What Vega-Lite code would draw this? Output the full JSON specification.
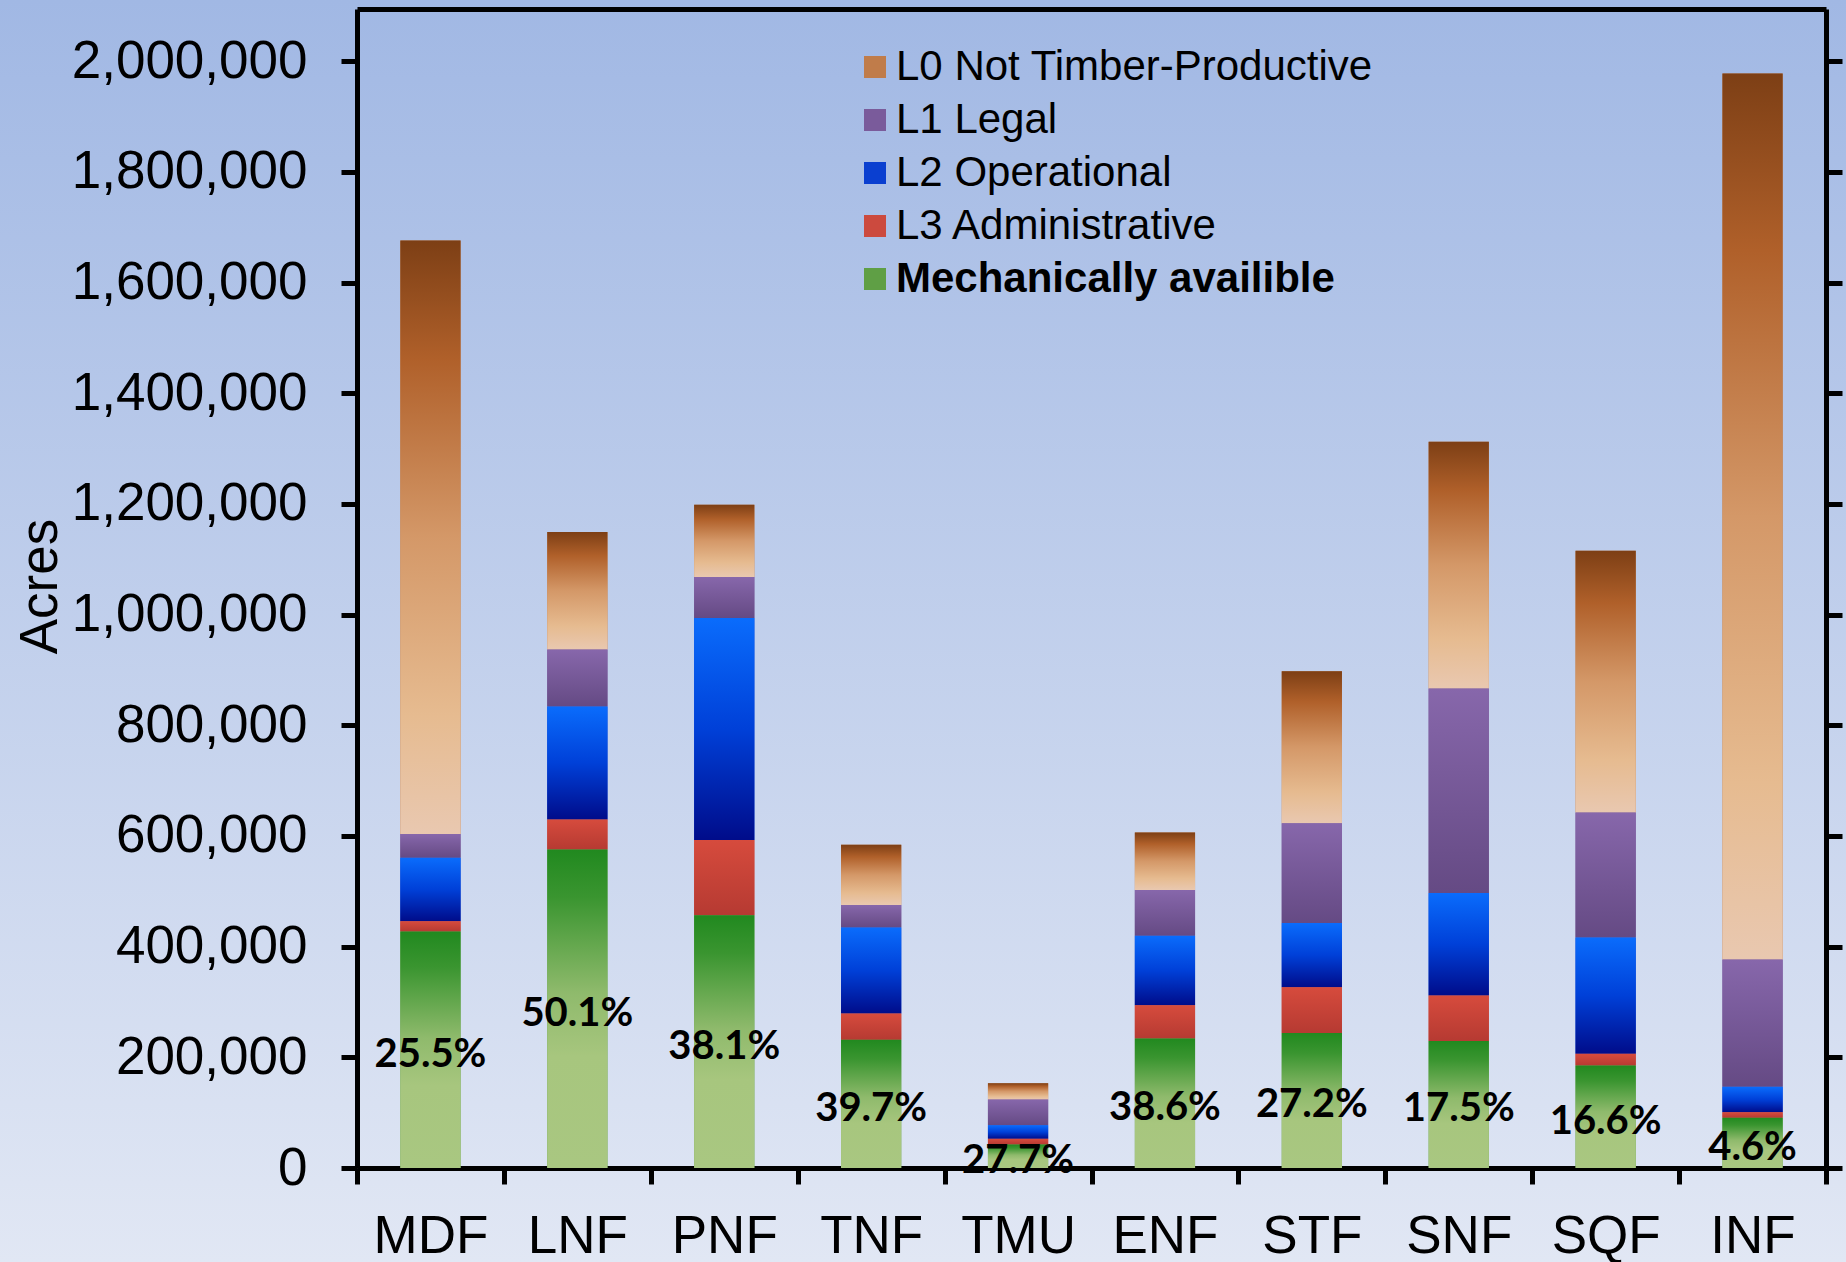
{
  "$schema": "https://vega.github.io/schema/vega-lite/v6.json",
  "width": 1846,
  "height": 1262,
  "autosize": {"type": "none"},
  "padding": 0,
  "background": "#e1e7f4",
  "view": {
    "stroke": null,
    "fill": {
      "gradient": "linear", "x1": 0, "y1": 0, "x2": 0, "y2": 1,
      "stops": [
        {"offset": 0, "color": "#a1b8e4"},
        {"offset": 1, "color": "#e1e7f4"}
      ]
    }
  },
  "data": {
    "values": [
      {"forest": "MDF", "level": "L0 Not Timber-Productive", "acres": 1072500},
      {"forest": "MDF", "level": "L1 Legal", "acres": 42800},
      {"forest": "MDF", "level": "L2 Operational", "acres": 114700},
      {"forest": "MDF", "level": "L3 Administrative", "acres": 18600},
      {"forest": "MDF", "level": "Mechanically availible", "acres": 427400, "share": "25.5%"},
      {"forest": "LNF", "level": "L0 Not Timber-Productive", "acres": 212300},
      {"forest": "LNF", "level": "L1 Legal", "acres": 102800},
      {"forest": "LNF", "level": "L2 Operational", "acres": 204100},
      {"forest": "LNF", "level": "L3 Administrative", "acres": 54200},
      {"forest": "LNF", "level": "Mechanically availible", "acres": 575600, "share": "50.1%"},
      {"forest": "PNF", "level": "L0 Not Timber-Productive", "acres": 130600},
      {"forest": "PNF", "level": "L1 Legal", "acres": 74100},
      {"forest": "PNF", "level": "L2 Operational", "acres": 400900},
      {"forest": "PNF", "level": "L3 Administrative", "acres": 136200},
      {"forest": "PNF", "level": "Mechanically availible", "acres": 456600, "share": "38.1%"},
      {"forest": "TNF", "level": "L0 Not Timber-Productive", "acres": 108800},
      {"forest": "TNF", "level": "L1 Legal", "acres": 40600},
      {"forest": "TNF", "level": "L2 Operational", "acres": 155400},
      {"forest": "TNF", "level": "L3 Administrative", "acres": 47400},
      {"forest": "TNF", "level": "Mechanically availible", "acres": 231800, "share": "39.7%"},
      {"forest": "TMU", "level": "L0 Not Timber-Productive", "acres": 29400},
      {"forest": "TMU", "level": "L1 Legal", "acres": 46600},
      {"forest": "TMU", "level": "L2 Operational", "acres": 24600},
      {"forest": "TMU", "level": "L3 Administrative", "acres": 10200},
      {"forest": "TMU", "level": "Mechanically availible", "acres": 42500, "share": "27.7%"},
      {"forest": "ENF", "level": "L0 Not Timber-Productive", "acres": 103700},
      {"forest": "ENF", "level": "L1 Legal", "acres": 82700},
      {"forest": "ENF", "level": "L2 Operational", "acres": 125800},
      {"forest": "ENF", "level": "L3 Administrative", "acres": 60000},
      {"forest": "ENF", "level": "Mechanically availible", "acres": 234000, "share": "38.6%"},
      {"forest": "STF", "level": "L0 Not Timber-Productive", "acres": 274400},
      {"forest": "STF", "level": "L1 Legal", "acres": 180400},
      {"forest": "STF", "level": "L2 Operational", "acres": 116200},
      {"forest": "STF", "level": "L3 Administrative", "acres": 82400},
      {"forest": "STF", "level": "Mechanically availible", "acres": 244100, "share": "27.2%"},
      {"forest": "SNF", "level": "L0 Not Timber-Productive", "acres": 445700},
      {"forest": "SNF", "level": "L1 Legal", "acres": 369800},
      {"forest": "SNF", "level": "L2 Operational", "acres": 185000},
      {"forest": "SNF", "level": "L3 Administrative", "acres": 82100},
      {"forest": "SNF", "level": "Mechanically availible", "acres": 229600, "share": "17.5%"},
      {"forest": "SQF", "level": "L0 Not Timber-Productive", "acres": 473000},
      {"forest": "SQF", "level": "L1 Legal", "acres": 225600},
      {"forest": "SQF", "level": "L2 Operational", "acres": 210100},
      {"forest": "SQF", "level": "L3 Administrative", "acres": 21500},
      {"forest": "SQF", "level": "Mechanically availible", "acres": 185100, "share": "16.6%"},
      {"forest": "INF", "level": "L0 Not Timber-Productive", "acres": 1601000},
      {"forest": "INF", "level": "L1 Legal", "acres": 230100},
      {"forest": "INF", "level": "L2 Operational", "acres": 45900},
      {"forest": "INF", "level": "L3 Administrative", "acres": 9800},
      {"forest": "INF", "level": "Mechanically availible", "acres": 91000, "share": "4.6%"}
    ]
  },
  "transform": [
    {
      "stack": "acres",
      "groupby": ["forest"],
      "sort": [{"field": "level", "order": "descending"}],
      "as": ["acres_lo", "acres_hi"]
    }
  ],
  "encoding": {
    "x": {
      "field": "forest", "type": "nominal",
      "sort": ["MDF", "LNF", "PNF", "TNF", "TMU", "ENF", "STF", "SNF", "SQF", "INF"],
      "scale": {"type": "band", "range": [357, 1826], "paddingInner": 0, "paddingOuter": 0},
      "axis": null
    },
    "y": {
      "field": "acres_lo", "type": "quantitative",
      "scale": {"domain": [0, 2094200], "range": [1168, 9], "nice": false},
      "axis": null
    },
    "y2": {"field": "acres_hi"}
  },
  "layer": [
    {
      "mark": {"type": "bar", "width": {"band": 0.41}},
      "encoding": {
        "x": {
          "field": "forest", "type": "nominal",
          "sort": ["MDF", "LNF", "PNF", "TNF", "TMU", "ENF", "STF", "SNF", "SQF", "INF"],
          "axis": {
            "orient": "bottom", "offset": -94, "title": null, "labelAngle": 0,
            "tickBand": "extent", "labelPadding": 26
          }
        },
        "y": {
          "field": "acres_lo", "type": "quantitative",
          "axis": {
            "orient": "left", "offset": -357, "title": "Acres",
            "titleX": -301, "titleY": 586, "titleAngle": -90,
            "titleAlign": "center", "titleBaseline": "alphabetic",
            "labelExpr": "format(datum.value, ',')", "labelPadding": 34, "labelLimit": 0,
            "values": [0, 200000, 400000, 600000, 800000, 1000000, 1200000, 1400000, 1600000, 1800000, 2000000]
          }
        },
        "color": {
          "field": "level", "type": "nominal",
          "scale": {
            "domain": ["L0 Not Timber-Productive", "L1 Legal", "L2 Operational", "L3 Administrative", "Mechanically availible"],
            "range": ["#c07c4a", "#7a5b9b", "#0a3fd0", "#cc4a3e", "#5f9f45"]
          },
          "legend": {
            "orient": "none", "legendX": 854, "legendY": 46, "title": null,
            "symbolType": "square", "symbolSize": 484, "symbolStrokeWidth": 0,
            "labelFont": "Liberation Sans", "labelFontSize": 42, "labelColor": "black",
            "labelOffset": 0, "rowPadding": 11, "padding": 0, "labelLimit": 0,
            "labelFontWeight": {"expr": "datum.value === 'Mechanically availible' ? 'bold' : 'normal'"}
          }
        }
      }
    },
    {
      "transform": [{"filter": "datum.level === 'L0 Not Timber-Productive'"}],
      "mark": {
        "type": "bar", "width": {"band": 0.41},
        "color": {"gradient": "linear", "x1": 0, "y1": 0, "x2": 0, "y2": 1, "stops": [
          {"offset": 0, "color": "#7d3f15"}, {"offset": 0.2, "color": "#b0602a"},
          {"offset": 0.5, "color": "#d49868"}, {"offset": 0.8, "color": "#e6bb90"},
          {"offset": 1, "color": "#e9c8b0"}]}
      }
    },
    {
      "transform": [{"filter": "datum.level === 'L1 Legal'"}],
      "mark": {
        "type": "bar", "width": {"band": 0.41},
        "color": {"gradient": "linear", "x1": 0, "y1": 0, "x2": 0, "y2": 1, "stops": [
          {"offset": 0, "color": "#8767ab"}, {"offset": 1, "color": "#654a84"}]}
      }
    },
    {
      "transform": [{"filter": "datum.level === 'L2 Operational'"}],
      "mark": {
        "type": "bar", "width": {"band": 0.41},
        "color": {"gradient": "linear", "x1": 0, "y1": 0, "x2": 0, "y2": 1, "stops": [
          {"offset": 0, "color": "#0a6cfc"}, {"offset": 0.5, "color": "#0040d8"},
          {"offset": 1, "color": "#000c8a"}]}
      }
    },
    {
      "transform": [{"filter": "datum.level === 'L3 Administrative'"}],
      "mark": {
        "type": "bar", "width": {"band": 0.41},
        "color": {"gradient": "linear", "x1": 0, "y1": 0, "x2": 0, "y2": 1, "stops": [
          {"offset": 0, "color": "#d64b3d"}, {"offset": 1, "color": "#b63a32"}]}
      }
    },
    {
      "transform": [{"filter": "datum.level === 'Mechanically availible'"}],
      "mark": {
        "type": "bar", "width": {"band": 0.41},
        "color": {"gradient": "linear", "x1": 0, "y1": 0, "x2": 0, "y2": 1, "stops": [
          {"offset": 0, "color": "#21891f"}, {"offset": 0.15, "color": "#3a9530"},
          {"offset": 0.45, "color": "#8fba6c"}, {"offset": 0.65, "color": "#a7c67e"},
          {"offset": 1, "color": "#a9c781"}]}
      }
    },
    {
      "transform": [{"filter": "datum.level === 'Mechanically availible'"}],
      "mark": {"type": "text", "font": "Lato", "fontWeight": "bold", "fontSize": 40, "baseline": "middle", "dy": 5, "color": "black"},
      "encoding": {
        "x": {
          "field": "forest", "type": "nominal",
          "sort": ["MDF", "LNF", "PNF", "TNF", "TMU", "ENF", "STF", "SNF", "SQF", "INF"],
          "axis": {"orient": "top", "offset": -9, "title": null, "ticks": false, "labels": false}
        },
        "y": {
          "field": "acres", "type": "quantitative", "stack": "zero", "bandPosition": 0.5,
          "axis": {
            "orient": "right", "offset": -20, "title": null, "labels": false,
            "values": [0, 200000, 400000, 600000, 800000, 1000000, 1200000, 1400000, 1600000, 1800000, 2000000]
          }
        },
        "y2": null,
        "text": {"field": "share", "type": "nominal"}
      }
    }
  ],
  "resolve": {"axis": {"x": "independent", "y": "independent"}},
  "config": {
    "font": "Liberation Sans",
    "axis": {
      "domainColor": "black", "domainWidth": 5,
      "tickColor": "black", "tickWidth": 5, "tickSize": 16,
      "labelColor": "black", "labelFont": "Liberation Sans", "labelFontSize": 53,
      "titleColor": "black", "titleFont": "Liberation Sans", "titleFontSize": 53, "titleFontWeight": "normal",
      "grid": false, "zindex": 1
    },
    "legend": {"labelFont": "Liberation Sans"}
  }
}
